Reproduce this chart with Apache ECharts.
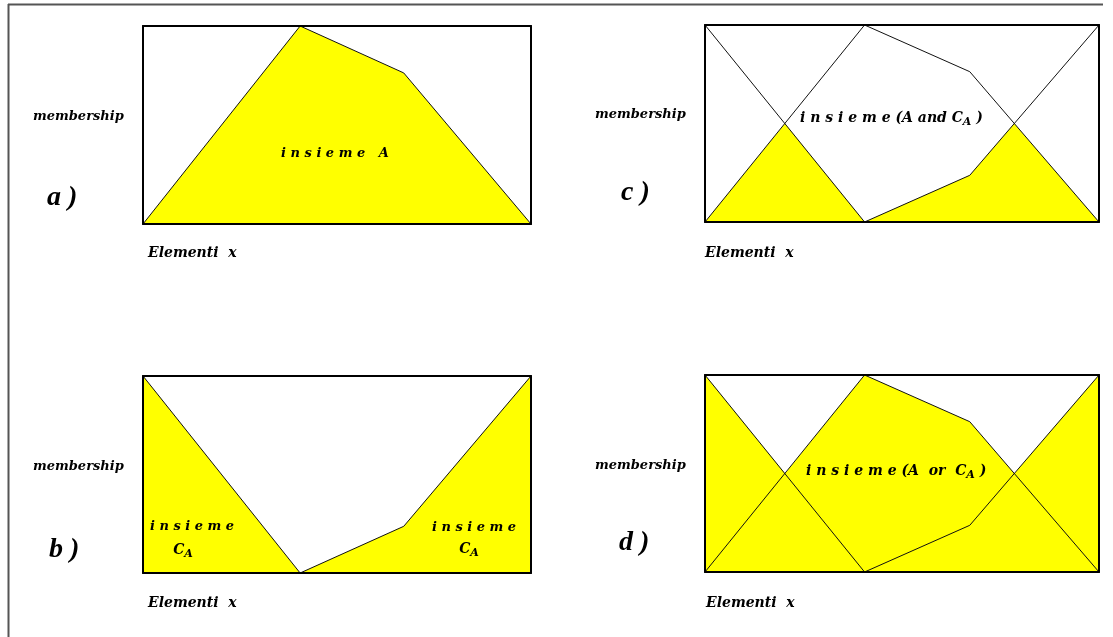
<!DOCTYPE html>
<html>
<head>
<meta charset="utf-8">
<script src="https://cdn.jsdelivr.net/npm/echarts@6/dist/echarts.min.js"></script>
<style>
  html, body { margin: 0; padding: 0; background: #fff; }
  #chart { width: 1113px; height: 637px; }
</style>
</head>
<body>
<div id="chart"></div>
<script>
// elementi x (0..1) e grado di appartenenza
var elementX = [0, 0.405, 0.672, 1];
var setA = [0, 1, 0.763, 0];
var setCA = [1, 0, 0.237, 1];
// punti di intersezione per A and C_A / A or C_A
var crossX = [0, 0.203, 0.405, 0.672, 0.785, 1];
var setAandCA = [0, 0.5, 0, 0.237, 0.5, 0];
var setAorCA = [1, 0.5, 1, 0.763, 0.5, 1];

var panelLetters = ['a )', 'c )', 'b )', 'd )'];
var yLabel = 'membership';
var xLabel = 'Elementi  x';

var chartDom = document.getElementById('chart');
var myChart = echarts.init(chartDom);

var grids = [
  { left: 143, top: 26, width: 388, height: 198 },
  { left: 705, top: 25, width: 394, height: 197 },
  { left: 143, top: 376, width: 388, height: 197 },
  { left: 705, top: 375, width: 394, height: 197 }
];

function zip(xs, ys) {
  var out = [];
  for (var i = 0; i < xs.length; i++) out.push([xs[i], ys[i]]);
  return out;
}

var xAxes = [], yAxes = [];
grids.forEach(function (g, i) {
  ['bottom', 'top'].forEach(function (p) {
    xAxes.push({
      gridIndex: i, type: 'value', min: 0, max: 1, position: p, z: 10,
      axisLine: { show: true, onZero: false, lineStyle: { color: '#000', width: 2 } },
      axisTick: { show: false }, axisLabel: { show: false }, splitLine: { show: false }
    });
  });
  ['left', 'right'].forEach(function (p) {
    yAxes.push({
      gridIndex: i, type: 'value', min: 0, max: 1, position: p, z: 10,
      axisLine: { show: true, onZero: false, lineStyle: { color: '#000', width: 2 } },
      axisTick: { show: false }, axisLabel: { show: false }, splitLine: { show: false }
    });
  });
});

function fill(i, xs, ys) {
  return {
    type: 'line', xAxisIndex: i * 2, yAxisIndex: i * 2, data: zip(xs, ys),
    symbol: 'none', silent: true, z: 2,
    lineStyle: { width: 0 },
    areaStyle: { color: '#ffff00', opacity: 1 }
  };
}
function edge(i, xs, ys) {
  return {
    type: 'line', xAxisIndex: i * 2, yAxisIndex: i * 2, data: zip(xs, ys),
    symbol: 'none', silent: true, z: 5,
    lineStyle: { color: '#111', width: 1 }
  };
}

var series = [
  // a) insieme A
  fill(0, elementX, setA), edge(0, elementX, setA),
  // c) A and C_A
  fill(1, crossX, setAandCA), edge(1, elementX, setA), edge(1, elementX, setCA),
  // b) complemento C_A
  fill(2, elementX, setCA), edge(2, elementX, setCA),
  // d) A or C_A
  fill(3, crossX, setAorCA), edge(3, elementX, setA), edge(3, elementX, setCA)
];

var small = { fontFamily: 'DejaVu Serif', fontStyle: 'italic', fontWeight: 'bold', fontSize: 13, fill: '#000' };
var rich = {
  t: { fontFamily: 'DejaVu Serif', fontStyle: 'italic', fontWeight: 'bold', fontSize: 13, color: '#000' },
  s: { fontFamily: 'DejaVu Serif', fontStyle: 'italic', fontWeight: 'bold', fontSize: 10, color: '#000', padding: [9, 0, 0, 0] },
  T: { fontFamily: 'DejaVu Serif', fontStyle: 'italic', fontWeight: 'bold', fontSize: 14, color: '#000' },
  S: { fontFamily: 'DejaVu Serif', fontStyle: 'italic', fontWeight: 'bold', fontSize: 11, color: '#000', padding: [9, 0, 0, 0] }
};

function txt(text, x, y, opt) {
  var st = Object.assign({ text: text, x: x, y: y, textAlign: 'left', textVerticalAlign: 'middle' }, small, opt || {});
  return { type: 'text', z: 20, silent: true, style: st };
}
function richTxt(text, x, y, align) {
  return { type: 'text', z: 20, silent: true,
    style: { text: text, x: x, y: y, textAlign: align || 'left', textVerticalAlign: 'middle', rich: rich } };
}

var graphic = [
  // cornice esterna
  { type: 'line', silent: true, shape: { x1: 8, y1: 4.5, x2: 1103, y2: 4.5 }, style: { stroke: '#555', lineWidth: 2 } },
  { type: 'line', silent: true, shape: { x1: 8.5, y1: 4, x2: 8.5, y2: 637 }, style: { stroke: '#555', lineWidth: 2 } },

  txt(yLabel, 33, 117), txt(yLabel, 595, 115), txt(yLabel, 33, 467), txt(yLabel, 595, 466),
  txt(xLabel, 148, 253, { fontSize: 14 }), txt(xLabel, 705, 253, { fontSize: 14 }),
  txt(xLabel, 148, 603, { fontSize: 14 }), txt(xLabel, 706, 603, { fontSize: 14 }),

  txt(panelLetters[0], 47, 198, { fontFamily: 'Liberation Serif', fontSize: 28 }),
  txt(panelLetters[1], 621, 193, { fontFamily: 'Liberation Serif', fontSize: 28 }),
  txt(panelLetters[2], 49, 550, { fontFamily: 'Liberation Serif', fontSize: 28 }),
  txt(panelLetters[3], 619, 543, { fontFamily: 'Liberation Serif', fontSize: 28 }),

  txt('i n s i e m e   A', 335, 154, { textAlign: 'center' }),
  richTxt('{T|i n s i e m e (A and C}{S|A}{T| )}', 800, 118),
  richTxt('{T|i n s i e m e (A  or  C}{S|A}{T| )}', 806, 471),

  txt('i n s i e m e', 150, 527),
  richTxt('{T|C}{S|A}', 183, 550, 'center'),
  txt('i n s i e m e', 432, 528),
  richTxt('{T|C}{S|A}', 469, 549, 'center')
];

var option = {
  backgroundColor: '#fff',
  animation: false,
  grid: grids.map(function (g) { return Object.assign({ containLabel: false }, g); }),
  xAxis: xAxes,
  yAxis: yAxes,
  series: series,
  graphic: graphic
};

option && myChart.setOption(option);
</script>
</body>
</html>
